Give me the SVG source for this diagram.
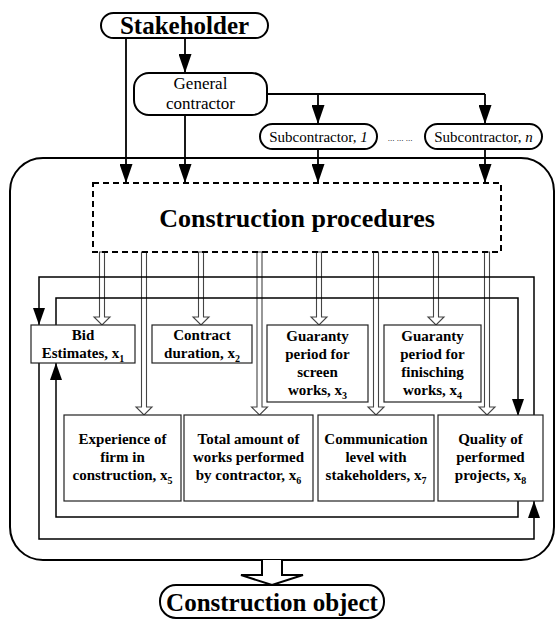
<svg xmlns="http://www.w3.org/2000/svg" width="557" height="620" viewBox="0 0 557 620">
<defs>
<marker id="ah" markerUnits="userSpaceOnUse" markerWidth="19" markerHeight="13" refX="19" refY="6.5" orient="auto">
<path d="M0,0 L19,6.5 L0,13 z" fill="#000"/>
</marker>
<marker id="ahs" markerUnits="userSpaceOnUse" markerWidth="17" markerHeight="12" refX="17" refY="6" orient="auto">
<path d="M0,0 L17,6 L0,12 z" fill="#000"/>
</marker>
</defs>
<style>
text{font-family:"Liberation Serif","Times New Roman",serif;fill:#000;text-anchor:middle}
.b{font-weight:bold}
.pill{fill:#fff;stroke:#000;stroke-width:2}
.box{fill:#fff;stroke:#222;stroke-width:1.2}
.ln{fill:none;stroke:#000;stroke-width:1.8}
.fb{fill:none;stroke:#000;stroke-width:1.5}
.ha{fill:#fff;stroke:#444;stroke-width:1.1}
.lbl{font-size:15px;font-weight:bold}
.sub{font-size:10px}
</style>
<rect width="557" height="620" fill="#fff"/>

<g id="outer">
<rect x="10" y="158" width="544" height="402" rx="33" ry="33" fill="none" stroke="#000" stroke-width="2"/>
</g>

<g id="connectors">
<path class="ln" d="M126,38 V183" marker-end="url(#ah)"/>
<path class="ln" d="M185,38 V73" marker-end="url(#ah)"/>
<path class="ln" d="M185,115 V183" marker-end="url(#ah)"/>
<path class="ln" d="M267,94 H485"/>
<path class="ln" d="M318,94 V124" marker-end="url(#ah)"/>
<path class="ln" d="M485,94 V124" marker-end="url(#ah)"/>
<path class="ln" d="M318,149 V183" marker-end="url(#ah)"/>
<path class="ln" d="M485,149 V183" marker-end="url(#ah)"/>
<!-- hollow arrows -->
<path class="ha" d="M99.5,252 V317 H94 L102,325 L110,317 H104.5 V252 z"/>
<path class="ha" d="M141.5,252 V407 H136 L144,415 L152,407 H146.5 V252 z"/>
<path class="ha" d="M198.5,252 V317 H193 L201,325 L209,317 H203.5 V252 z"/>
<path class="ha" d="M257,252 V407 H251.5 L259.5,415 L267.5,407 H262 V252 z"/>
<path class="ha" d="M316.5,252 V317 H311 L319,325 L327,317 H321.5 V252 z"/>
<path class="ha" d="M373.5,252 V407 H368 L376,415 L384,407 H378.5 V252 z"/>
<path class="ha" d="M433.5,252 V317 H428 L436,325 L444,317 H438.5 V252 z"/>
<path class="ha" d="M484.5,252 V407 H479 L487,415 L495,407 H489.5 V252 z"/>
<!-- feedback loops -->
<path class="fb" d="M534,416 V277 H39 V325" marker-end="url(#ahs)"/>
<path class="fb" d="M56,325 V298 H518 V416" marker-end="url(#ahs)"/>
<path class="fb" d="M39,363 V539 H534 V501" marker-end="url(#ahs)"/>
<path class="fb" d="M518,501 V517 H56 V363" marker-end="url(#ahs)"/>
<!-- output arrow -->
<path d="M262,560 V575 H241 L272,585 L303,575 H282 V560" fill="#fff" stroke="#000" stroke-width="2"/>
</g>

<g id="stakeholder">
<rect class="pill" x="101" y="13" width="167" height="25" rx="12.5"/>
<text class="b" x="184.5" y="34" font-size="25">Stakeholder</text>
</g>

<g id="general-contractor">
<rect class="pill" x="134" y="73" width="133" height="42" rx="15"/>
<text x="200.5" y="89" font-size="17">General</text>
<text x="200.5" y="109" font-size="17">contractor</text>
</g>

<g id="subcontractor-1">
<rect class="pill" x="260" y="124" width="117" height="25" rx="12.5" stroke-width="1.5"/>
<text x="318.5" y="142" font-size="15">Subcontractor, <tspan font-style="italic">1</tspan></text>
</g>

<text x="400" y="141" font-size="9">... ... ...</text>

<g id="subcontractor-n">
<rect class="pill" x="425" y="124" width="117" height="25" rx="12.5" stroke-width="1.5"/>
<text x="483.5" y="142" font-size="15">Subcontractor, <tspan font-style="italic">n</tspan></text>
</g>

<g id="construction-procedures">
<rect x="93" y="183" width="408" height="69" fill="#fff" fill-opacity="0" stroke="#000" stroke-width="2" stroke-dasharray="6,4"/>
<text class="b" x="297" y="227" font-size="26">Construction procedures</text>
</g>

<g id="x1">
<rect class="box" x="31" y="325" width="104" height="38"/>
<text class="lbl" x="83" y="340">Bid</text>
<text class="lbl" x="83" y="358">Estimates, x<tspan class="sub" dy="4">1</tspan></text>
</g>

<g id="x2">
<rect class="box" x="152" y="325" width="100" height="38"/>
<text class="lbl" x="202" y="340">Contract</text>
<text class="lbl" x="202" y="358">duration, x<tspan class="sub" dy="4">2</tspan></text>
</g>

<g id="x3">
<rect class="box" x="267" y="325" width="101" height="77"/>
<text class="lbl" x="317.5" y="341">Guaranty</text>
<text class="lbl" x="317.5" y="359">period for</text>
<text class="lbl" x="317.5" y="377">screen</text>
<text class="lbl" x="317.5" y="395">works, x<tspan class="sub" dy="4">3</tspan></text>
</g>

<g id="x4">
<rect class="box" x="384" y="325" width="97" height="77"/>
<text class="lbl" x="432.5" y="341">Guaranty</text>
<text class="lbl" x="432.5" y="359">period for</text>
<text class="lbl" x="432.5" y="377">finisching</text>
<text class="lbl" x="432.5" y="395">works, x<tspan class="sub" dy="4">4</tspan></text>
</g>

<g id="x5">
<rect class="box" x="64" y="415" width="117" height="86"/>
<text class="lbl" x="122.5" y="444">Experience of</text>
<text class="lbl" x="122.5" y="462">firm in</text>
<text class="lbl" x="122.5" y="480">construction, x<tspan class="sub" dy="4">5</tspan></text>
</g>

<g id="x6">
<rect class="box" x="184" y="415" width="129" height="86"/>
<text class="lbl" x="248.5" y="444">Total amount of</text>
<text class="lbl" x="248.5" y="462">works performed</text>
<text class="lbl" x="248.5" y="480">by contractor, x<tspan class="sub" dy="4">6</tspan></text>
</g>

<g id="x7">
<rect class="box" x="318" y="415" width="116" height="86"/>
<text class="lbl" x="376" y="444">Communication</text>
<text class="lbl" x="376" y="462">level with</text>
<text class="lbl" x="376" y="480">stakeholders, x<tspan class="sub" dy="4">7</tspan></text>
</g>

<g id="x8">
<rect class="box" x="438" y="415" width="105" height="86"/>
<text class="lbl" x="490.5" y="444">Quality of</text>
<text class="lbl" x="490.5" y="462">performed</text>
<text class="lbl" x="490.5" y="480">projects, x<tspan class="sub" dy="4">8</tspan></text>
</g>

<g id="construction-object">
<rect class="pill" x="160" y="585" width="224" height="33" rx="16"/>
<text class="b" x="272" y="611" font-size="25">Construction object</text>
</g>
</svg>
